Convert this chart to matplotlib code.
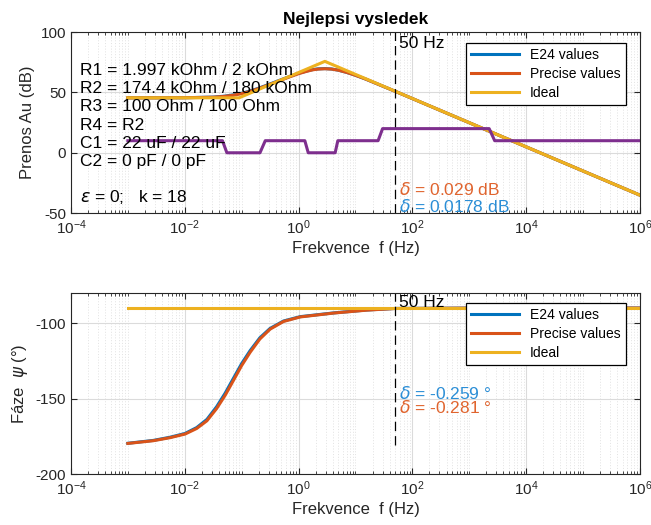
import numpy as np
import matplotlib.pyplot as plt
from matplotlib.ticker import LogLocator, FixedLocator, NullFormatter

plt.rcParams['font.family'] = ['Liberation Sans', 'DejaVu Sans']
plt.rcParams['mathtext.fontset'] = 'dejavusans'
plt.rcParams['axes.unicode_minus'] = False

# barvy (MATLAB default)
c_e24 = '#0072BD'
c_prec = '#D95319'
c_ideal = '#EDB120'
c_tol = '#7E2F8E'

# --- prenos (dB) ---
freq_mag = [1e-3, 3.16e-3, 0.01, 0.0316, 0.05, 0.07, 0.1, 0.14, 0.2, 0.316, 0.5, 0.7,
            1, 1.4, 1.78, 2.2, 2.9, 3.8, 5, 7, 10, 15, 31.6, 50, 100, 1e3, 1e4, 1e5, 1e6]
mag_e24 = [45.5, 45.5, 45.6, 46.1, 46.9, 47.9, 49.3, 51.1, 53.5, 57.0, 60.6, 63.2,
           65.8, 67.7, 68.9, 69.5, 69.7, 69.4, 68.4, 66.6, 64.2, 61.1, 54.8, 50.9, 44.9,
           24.9, 4.9, -15.1, -35.1]
mag_prec = [45.5, 45.5, 45.6, 46.0, 46.7, 47.6, 49.0, 50.8, 53.2, 56.7, 60.3, 62.9,
            65.5, 67.5, 68.7, 69.3, 69.6, 69.3, 68.4, 66.6, 64.2, 61.1, 54.8, 50.9, 44.9,
            24.9, 4.9, -15.1, -35.1]
freq_ideal = [1e-3, 0.09, 2.9, 1e6]
mag_ideal = [45.5, 45.5, 75.7, -35.1]

# tolerancni pas
freq_tol = [1e-3, 0.046, 0.055, 0.21, 0.26, 1.29, 1.48, 4.4, 4.9, 25, 30, 2240, 2800, 1e6]
tol_val = [10, 10, 0, 0, 10, 10, 0, 0, 10, 10, 20, 20, 10, 10]

# --- faze (stupne) ---
freq_ph = [1e-3, 2.8e-3, 5.5e-3, 0.0101, 0.0162, 0.0245, 0.0363, 0.0513, 0.0716, 0.1,
           0.141, 0.209, 0.316, 0.543, 1.07, 4.2, 15.8, 50, 1e3, 1e6]
ph_e24 = [-179.6, -177.7, -175.6, -173.1, -169.2, -163.8, -155.4, -146.4, -136.6, -126.8,
          -118.2, -109.7, -103.5, -98.6, -95.7, -93.2, -91.3, -90.26, -90.04, -90.0]
ph_prec = [-179.7, -177.9, -175.9, -173.5, -169.8, -164.7, -156.6, -147.8, -138.0, -128.1,
           -119.3, -110.5, -104.0, -98.9, -95.9, -93.3, -91.4, -90.3, -90.05, -90.0]
freq_ph_ideal = [1e-3, 1e6]
ph_ideal = [-90, -90]

f_mark = 50
text_lines = ['R1 = 1.997 kOhm / 2 kOhm', 'R2 = 174.4 kOhm / 180 kOhm',
              'R3 = 100 Ohm / 100 Ohm', 'R4 = R2', 'C1 = 22 uF / 22 uF', 'C2 = 0 pF / 0 pF']

ax_col = (0.15, 0.15, 0.15)
c_txt_blue = '#2B8ED6'
c_txt_orange = '#E0642E'


def style_axes(ax, ylim, yticks):
    ax.set_xscale('log')
    ax.set_xlim(1e-4, 1e6)
    ax.set_ylim(*ylim)
    ax.set_yticks(yticks)
    ax.xaxis.set_major_locator(FixedLocator([1e-4, 1e-2, 1e0, 1e2, 1e4, 1e6]))
    ax.xaxis.set_minor_locator(LogLocator(base=10, subs=np.arange(1, 10), numticks=30))
    ax.xaxis.set_minor_formatter(NullFormatter())
    ax.grid(True, which='major', color=(0.86, 0.86, 0.86), linewidth=0.8, linestyle='-')
    ax.grid(True, which='minor', axis='x', color=(0.85, 0.85, 0.85), linewidth=0.5,
            linestyle=(0, (1.5, 2.5)))
    ax.set_axisbelow(True)
    ax.tick_params(which='both', direction='in', top=True, right=True, colors=ax_col,
                   labelsize=11)
    ax.tick_params(which='major', length=4)
    ax.tick_params(which='minor', length=2)
    for s in ax.spines.values():
        s.set_color(ax_col)
        s.set_linewidth(0.8)


fig = plt.figure(figsize=(6.51, 5.25), dpi=100)
ax1 = fig.add_axes([0.109, 0.594, 0.874, 0.345])
ax2 = fig.add_axes([0.109, 0.097, 0.874, 0.345])

# horni graf
style_axes(ax1, (-50, 100), [-50, 0, 50, 100])
ax1.plot(freq_mag, mag_e24, color=c_e24, lw=2.2, label='E24 values')
ax1.plot(freq_mag, mag_prec, color=c_prec, lw=2.2, label='Precise values')
ax1.plot(freq_ideal, mag_ideal, color=c_ideal, lw=2.2, label='Ideal')
ax1.plot(freq_tol, tol_val, color=c_tol, lw=2.2)
ax1.plot([f_mark, f_mark], [-50, 100], color='k', lw=0.9, ls=(0, (7.5, 4)))
ax1.text(58, 90.9, '50 Hz', fontsize=12.5, va='center', ha='left', color='k')
ax1.text(58, -30.3, r'$\delta$ = 0.029 dB', fontsize=12.5, color=c_txt_orange, va='center')
ax1.text(58, -44.7, r'$\delta$ = 0.0178 dB', fontsize=12.5, color=c_txt_blue, va='center')
ys = [0.790, 0.689, 0.588, 0.486, 0.387, 0.283]
for y, t in zip(ys, text_lines):
    ax1.text(0.016, y, t, transform=ax1.transAxes, fontsize=12.5, va='center', color='k')
ax1.text(0.016, 0.087, r'$\epsilon$ = 0;   k = 18', transform=ax1.transAxes,
         fontsize=12.5, va='center', color='k')
ax1.set_title('Nejlepsi vysledek', fontsize=12.5, fontweight='bold', pad=6, color='k')
ax1.set_xlabel('Frekvence  f (Hz)', fontsize=12, color=ax_col, labelpad=3)
ax1.set_ylabel('Prenos Au (dB)', fontsize=12, color=ax_col)
leg1 = ax1.legend(loc='upper right', bbox_to_anchor=(0.975, 0.939), fontsize=10,
                  fancybox=False, edgecolor='k', framealpha=1, borderaxespad=0,
                  handlelength=3.5, labelspacing=0.35, borderpad=0.35)
leg1.get_frame().set_linewidth(0.9)

# dolni graf
style_axes(ax2, (-200, -80), [-200, -150, -100])
ax2.plot(freq_ph, ph_e24, color=c_e24, lw=2.2, label='E24 values')
ax2.plot(freq_ph, ph_prec, color=c_prec, lw=2.2, label='Precise values')
ax2.plot(freq_ph_ideal, ph_ideal, color=c_ideal, lw=2.2, label='Ideal')
ax2.plot([f_mark, f_mark], [-181, -80], color='k', lw=0.9, ls=(0, (7.5, 4)))
ax2.text(58, -86.4, '50 Hz', fontsize=12.5, va='center', ha='left', color='k')
ax2.text(58, -146.5, r'$\delta$ = -0.259 °', fontsize=12.5, color=c_txt_blue, va='center')
ax2.text(58, -156.1, r'$\delta$ = -0.281 °', fontsize=12.5, color=c_txt_orange, va='center')
ax2.set_xlabel('Frekvence  f (Hz)', fontsize=12, color=ax_col, labelpad=3)
ax2.set_ylabel(r'Fáze  $\psi$ (°)', fontsize=12, color=ax_col)
leg2 = ax2.legend(loc='upper right', bbox_to_anchor=(0.975, 0.943), fontsize=10,
                  fancybox=False, edgecolor='k', framealpha=1, borderaxespad=0,
                  handlelength=3.5, labelspacing=0.35, borderpad=0.35)
leg2.get_frame().set_linewidth(0.9)

fig.savefig('out.png', dpi=100)
